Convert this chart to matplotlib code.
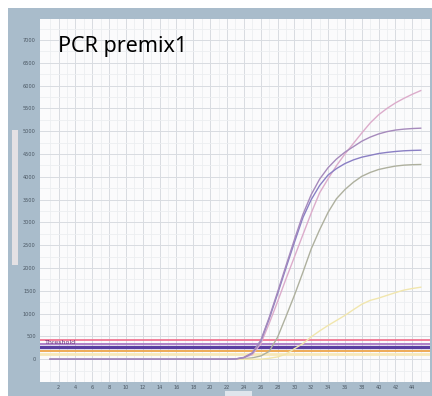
import numpy as np
import matplotlib
matplotlib.use("Agg")
import matplotlib.pyplot as plt
from matplotlib.patches import Rectangle

# amplification curves (cycle, RFU)
cycles = [1, 22, 23, 24, 25, 26, 27, 28, 29, 30, 31, 32, 33, 34, 35, 36, 37, 38,
          39, 40, 41, 42, 43, 44, 45]
rfu_pink = [0, 0, 5, 30, 100, 335, 780, 1260, 1760, 2240, 2725, 3205, 3650, 3955,
            4245, 4500, 4730, 4960, 5180, 5360, 5500, 5620, 5720, 5810, 5890]
rfu_mauve = [0, 0, 5, 40, 140, 410, 910, 1470, 2050, 2620, 3170, 3610, 3950, 4200,
             4390, 4540, 4660, 4780, 4870, 4940, 4990, 5025, 5045, 5058, 5066]
rfu_blue = [0, 0, 5, 35, 130, 390, 880, 1430, 2000, 2560, 3100, 3500, 3810, 4040,
            4180, 4290, 4370, 4430, 4470, 4510, 4535, 4555, 4570, 4578, 4583]
rfu_grey = [0, 0, 0, 10, 30, 70, 170, 480, 935, 1400, 1900, 2420, 2840, 3220,
            3520, 3720, 3880, 4010, 4095, 4160, 4200, 4235, 4255, 4265, 4270]
rfu_yellow = [0, 0, 0, 0, 0, 0, 20, 50, 110, 230, 340, 490, 620, 740,
              850, 960, 1085, 1205, 1290, 1340, 1400, 1460, 1515, 1550, 1579]

curve_values = [rfu_grey, rfu_yellow, rfu_pink, rfu_blue, rfu_mauve]
curve_colors = ["#aeb09e", "#f1e6ad", "#dcaccb", "#8a7fc4", "#a68abc"]

# threshold lines
thresholds = [417, 340, 263, 175, 110]
thr_colors = ["#f07592", "#a877c4", "#5a3fa2", "#eeaa55", "#f7e8b8"]
thr_widths = [1.3, 1.3, 2.4, 1.4, 2.0]

xticks = list(range(2, 46, 2))
yticks = list(range(0, 7001, 500))

fig = plt.figure(figsize=(4.32, 3.96), dpi=100, facecolor="white")
# window background of the screenshot
fig.patches.append(Rectangle((8 / 432, 0), 1, 388 / 396, transform=fig.transFigure,
                             facecolor="#a9bccb", edgecolor="none", zorder=-2))
fig.patches.append(Rectangle((12 / 432, 1 - 265 / 396), 6 / 432, 135 / 396,
                             transform=fig.transFigure, facecolor="#e4e1e4",
                             edgecolor="none", zorder=-1))
fig.patches.append(Rectangle((225 / 432, 0), 27 / 432, 5 / 396,
                             transform=fig.transFigure, facecolor="#dfe5ec",
                             edgecolor="none", zorder=-1))

ax = fig.add_axes([40 / 432, 14 / 396, 390 / 432, 363 / 396])
ax.set_facecolor("#fbfbfc")

for t, col, lw in zip(thresholds, thr_colors, thr_widths):
    ax.axhline(t, color=col, lw=lw, zorder=2)

for vals, col in zip(curve_values, curve_colors):
    ax.plot(cycles, vals, color=col, lw=1.0, zorder=3)

ax.text(0.4, 330, "Threshold", fontsize=4.5, color="#6a2c78", zorder=4)

ax.set_xlim(-0.2, 46.1)
ax.set_ylim(-500, 7460)
ax.set_xticks(xticks)
ax.set_yticks(yticks)
ax.set_xticks(np.arange(1, 46, 2), minor=True)
ax.set_yticks(np.arange(-250, 7460, 500), minor=True)
ax.grid(True, which="major", color="#d8dce1", lw=0.7)
ax.grid(True, which="minor", color="#eceef1", lw=0.6)
ax.set_axisbelow(True)
ax.tick_params(which="both", length=0)
ax.tick_params(axis="both", labelsize=3.6, labelcolor="#4a5662")
ax.tick_params(axis="x", pad=2.5)
ax.tick_params(axis="y", pad=3)
for s in ax.spines.values():
    s.set_visible(False)

ax.text(0.046, 0.925, "PCR premix1", transform=ax.transAxes, fontsize=15.5,
        family="Noto Sans", color="black", va="center", ha="left")

fig.savefig("out.png", dpi=100, facecolor=fig.get_facecolor())
